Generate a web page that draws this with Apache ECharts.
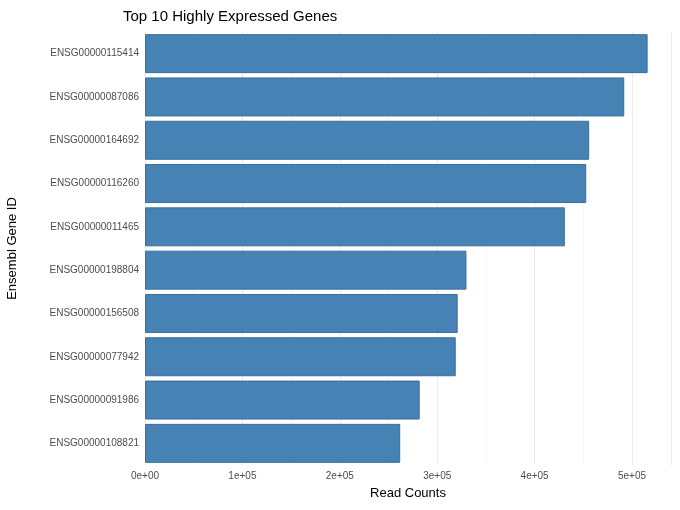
<!DOCTYPE html>
<html>
<head>
<meta charset="utf-8">
<script src="https://cdn.jsdelivr.net/npm/echarts@6/dist/echarts.min.js"></script>
<style>html,body{margin:0;padding:0;background:#fff}#main{width:680px;height:510px}</style>
</head>
<body>
<div id="main"></div>
<script>
var genes = ['ENSG00000115414', 'ENSG00000087086', 'ENSG00000164692', 'ENSG00000116260', 'ENSG00000011465',
             'ENSG00000198804', 'ENSG00000156508', 'ENSG00000077942', 'ENSG00000091986', 'ENSG00000108821'];
var counts = [516000, 492000, 456000, 453000, 431000, 330000, 321000, 319000, 282000, 262000];

var myChart = echarts.init(document.getElementById('main'));
var option = {
    title: {
        text: 'Top 10 Highly Expressed Genes',
        left: 118, top: 4,
        textStyle: { fontFamily: 'Liberation Sans', fontSize: 15, fontWeight: 'normal', color: '#000' }
    },
    grid: { left: 145, right: 9, top: 32, bottom: 45, containLabel: false, outerBoundsMode: 'none' },
    xAxis: {
        type: 'value', min: 0, max: 540000, interval: 100000,
        name: 'Read Counts', nameLocation: 'middle', nameGap: 22,
        nameTextStyle: { fontFamily: 'Liberation Sans', fontSize: 13, color: '#000' },
        axisLine: { show: false }, axisTick: { show: false },
        axisLabel: {
            showMaxLabel: false, color: '#4d4d4d', fontFamily: 'Liberation Sans', fontSize: 10, margin: 6,
            formatter: function (v) { return v === 0 ? '0e+00' : (v / 100000) + 'e+05'; }
        },
        splitLine: { lineStyle: { color: '#ebebeb' } },
        minorTick: { show: false, splitNumber: 2 },
        minorSplitLine: { show: true, lineStyle: { color: '#f5f5f5' } }
    },
    yAxis: {
        type: 'category', data: genes, inverse: true,
        name: 'Ensembl Gene ID', nameLocation: 'middle', nameGap: 126,
        nameTextStyle: { fontFamily: 'Liberation Sans', fontSize: 13, color: '#000' },
        axisLine: { show: false }, axisTick: { show: false },
        axisLabel: { color: '#4d4d4d', fontFamily: 'Liberation Sans', fontSize: 10, margin: 6 },
        splitLine: { show: false }
    },
    series: [{
        type: 'bar', data: counts, barCategoryGap: '10%',
        itemStyle: { color: '#4682B4', borderColor: '#3a6f9c', borderWidth: 1 }
    }]
};
myChart.setOption(option);
</script>
</body>
</html>
